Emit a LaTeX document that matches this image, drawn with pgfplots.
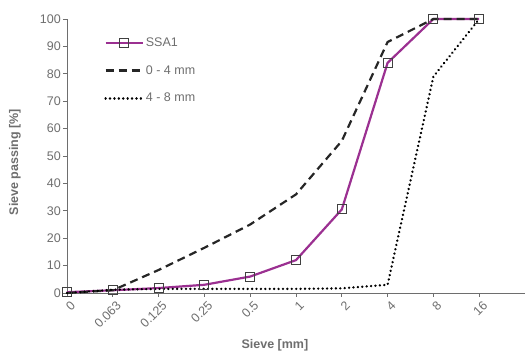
\documentclass[border=0pt]{standalone}
\usepackage{pgfplots}
\pgfplotsset{compat=1.18}
\usepackage{fontspec}
\setmainfont{Liberation Sans}
\definecolor{ssa}{RGB}{155,48,145}
\definecolor{axgray}{RGB}{110,110,110}
\definecolor{txtgray}{RGB}{110,110,110}
\definecolor{mk}{RGB}{64,64,64}
\begin{document}
\begin{tikzpicture}
\useasboundingbox (-67pt,-60pt) rectangle (458pt,293pt);
\begin{axis}[
  at={(0,0)}, anchor=south west,
  scale only axis, width=458pt, height=274pt,
  xmin=0, xmax=10, ymin=0, ymax=100,
  axis lines=left, axis line style={axgray, line width=0.9pt, -},
  xtick={0,1,2,3,4,5,6,7,8,9},
  xticklabels={0,0.063,0.125,0.25,0.5,1,2,4,8,16},
  ytick={0,10,...,100},
  tick align=outside, tick style={axgray, line width=0.9pt},
  major tick length=4pt,
  ticklabel style={font=\fontsize{12.5}{14}\selectfont, text=txtgray},
  /pgf/number format/assume math mode=true,
  yticklabel style={inner xsep=2pt},
  xticklabel style={rotate=45, anchor=north east, inner sep=1pt, xshift=1pt, yshift=-3pt},
  xlabel={\textbf{Sieve [mm]}}, ylabel={\textbf{Sieve passing [\%]}},
  label style={font=\fontsize{12.5}{14}\selectfont, text=txtgray},
  xlabel style={at={(axis description cs:0.454,-0.19)}, anchor=center},
  ylabel style={at={(axis description cs:-0.1135,0.478)}, anchor=center, rotate=0},
  clip=false,
  legend style={draw=none, fill=none, at={(axis description cs:0.081,0.94)}, anchor=north west,
    inner sep=0pt, font=\fontsize{12.5}{14}\selectfont, text=txtgray, row sep=13.5pt},
  legend cell align=left,
  legend image code/.code={\draw[#1] (0pt,0pt) -- (37pt,0pt); \draw[#1, only marks] plot coordinates {(18.5pt,0pt)};},
]
\addplot[ssa, line width=2.2pt, mark=square, mark size=4.5pt, mark options={draw=mk, fill=none, line width=0.9pt, solid}]
coordinates {(0,0.3) (1,1.0) (2,1.8) (3,3.0) (4,6.0) (5,12.0) (6,30.5) (7,84) (8,100) (9,100)};
\addlegendentry{SSA1}
\addplot[black!85, line width=2.2pt, dash pattern=on 8pt off 5pt, no marks]
coordinates {(0,0) (1,1.0) (2,8.4) (3,16.5) (4,25) (5,36) (6,55.5) (7,91.6) (8,100) (9,100)};
\addlegendentry{0 - 4 mm}
\addplot[black, line width=2.6pt, dash pattern=on 0.01pt off 4.4pt, line cap=round, no marks]
coordinates {(0,0) (1,1.2) (2,1.5) (3,1.5) (4,1.5) (5,1.5) (6,1.7) (7,3) (8,79) (9,100)};
\addlegendentry{4 - 8 mm}
\end{axis}
\end{tikzpicture}
\end{document}
